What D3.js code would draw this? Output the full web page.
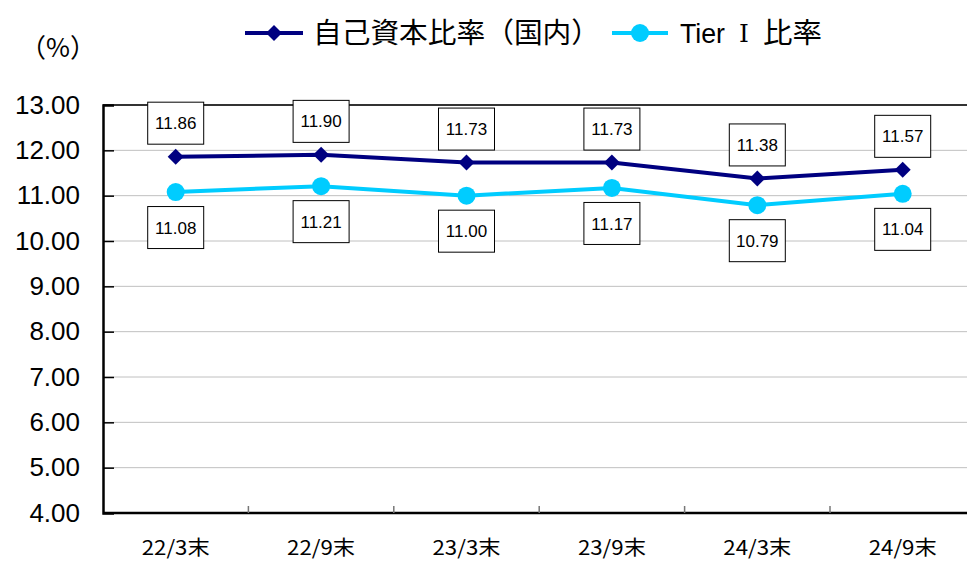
<!DOCTYPE html>
<html><head><meta charset="utf-8">
<script src="https://cdn.jsdelivr.net/npm/d3@7"></script>
<style>body{margin:0;background:#fff;}svg{display:block;}</style>
</head><body>
<svg id="c" width="967" height="561"></svg>
<script>
const categories = ["22/3末","22/9末","23/3末","23/9末","24/3末","24/9末"];
const capitalRatio = [11.86,11.90,11.73,11.73,11.38,11.57];
const tier1Ratio = [11.08,11.21,11.00,11.17,10.79,11.04];
const yTicks = [4,5,6,7,8,9,10,11,12,13];
const seriesNames = ["自己資本比率（国内）","Tier Ⅰ 比率"];

const svg = d3.select("#c");
const L = 103, T = 105, B = 513, R = 103 + 6*145.4;
const x = d3.scaleBand().domain(categories).range([L, R]);
const y = d3.scaleLinear().domain([4,13]).range([B, T]);
const cx = d => x(d) + x.bandwidth()/2;
const cjk = "Noto Sans CJK JP, sans-serif";
const latin = "Liberation Sans, Arial, sans-serif";

// gridlines
svg.append("g").selectAll("line").data(yTicks.filter(v=>v>4&&v<13)).join("line")
  .attr("x1", L).attr("x2", R).attr("y1", d=>y(d)).attr("y2", d=>y(d))
  .attr("stroke", "#c0c0c0").attr("stroke-width", 1);

// plot border top
svg.append("line").attr("x1", L).attr("x2", R).attr("y1", T).attr("y2", T).attr("stroke","#333").attr("stroke-width",2);

// y axis
const yAxis = d3.axisLeft(y).tickValues(yTicks).tickSize(-11).tickPadding(23).tickFormat(d3.format(".2f"));
const gy = svg.append("g").attr("transform", `translate(${L},0)`).call(yAxis);
gy.select(".domain").attr("stroke","#000").attr("stroke-width",2.5);
gy.selectAll(".tick line").attr("stroke","#000").attr("stroke-width",1.5);
gy.selectAll(".tick text").attr("font-family",latin).attr("font-size",26).attr("fill","#000");
gy.selectAll(".tick").filter(d=>d===13||d===4).select("line").remove();

// x axis
const xb = d3.scaleLinear().domain([0,6]).range([L,R]);
const gx = svg.append("g").attr("transform", `translate(0,${B})`);
gx.append("line").attr("x1",L).attr("x2",R).attr("stroke","#000").attr("stroke-width",2.5);
gx.selectAll("line.t").data([1,2,3,4,5]).join("line").attr("class","t")
  .attr("x1",d=>xb(d)).attr("x2",d=>xb(d)).attr("y1",0).attr("y2",-7).attr("stroke","#777").attr("stroke-width",1.5);
gx.selectAll("text").data(categories).join("text")
  .attr("x", d=>cx(d)-34).attr("y", 42)
  .attr("textLength",68).attr("lengthAdjust","spacingAndGlyphs")
  .attr("font-family",cjk).attr("font-size",20).attr("fill","#000")
  .text(d=>d);

// unit
svg.append("text").attr("x",58).attr("y",57).attr("text-anchor","middle")
  .attr("font-family",cjk).attr("font-size",26).text("（%）");

const line = d3.line().x((d,i)=>cx(categories[i])).y(d=>y(d));
const c1 = "#000080", c2 = "#00ccff";
svg.append("path").datum(capitalRatio).attr("d", line).attr("fill","none").attr("stroke",c1).attr("stroke-width",4);
svg.append("path").datum(tier1Ratio).attr("d", line).attr("fill","none").attr("stroke",c2).attr("stroke-width",4);

const dia = d3.symbol().type(d3.symbolSquare).size(128);
svg.append("g").selectAll("path").data(capitalRatio).join("path")
  .attr("d", dia)
  .attr("transform",(d,i)=>`translate(${cx(categories[i])},${y(d)}) rotate(45)`).attr("fill",c1);
svg.append("g").selectAll("circle").data(tier1Ratio).join("circle")
  .attr("cx",(d,i)=>cx(categories[i])).attr("cy",d=>y(d)).attr("r",9).attr("fill",c2);

function labels(data, dy){
  const g = svg.append("g").selectAll("g").data(data).join("g")
    .attr("transform",(d,i)=>`translate(${cx(categories[i])},${y(d)+dy})`);
  g.append("rect").attr("x",-28).attr("y",-21).attr("width",56).attr("height",42)
    .attr("fill","#fff").attr("stroke","#000").attr("stroke-width",1);
  g.append("text").attr("text-anchor","middle").attr("dy","0.36em")
    .attr("font-family",latin).attr("font-size",17).attr("fill","#000")
    .text(d=>d.toFixed(2));
}
labels(capitalRatio, -33.5);
labels(tier1Ratio, 35.5);

// legend
const ly = 33;
const lg = svg.append("g");
lg.append("line").attr("x1",245).attr("x2",303).attr("y1",ly).attr("y2",ly).attr("stroke",c1).attr("stroke-width",4);
lg.append("path").attr("d", dia).attr("transform",`translate(274,${ly}) rotate(45)`).attr("fill",c1);
lg.append("text").attr("x",313).attr("y",ly).attr("dy","0.36em")
  .attr("textLength",287).attr("lengthAdjust","spacingAndGlyphs")
  .attr("font-family",cjk).attr("font-size",28).text(seriesNames[0]);
lg.append("line").attr("x1",612).attr("x2",668).attr("y1",ly).attr("y2",ly).attr("stroke",c2).attr("stroke-width",4);
lg.append("circle").attr("cx",640).attr("cy",ly).attr("r",9).attr("fill",c2);
const parts = seriesNames[1].split(" ");
lg.append("text").attr("x",680).attr("y",ly).attr("dy","0.36em")
  .attr("textLength",45).attr("lengthAdjust","spacingAndGlyphs")
  .attr("font-family",latin).attr("font-size",28).text(parts[0]);
lg.append("text").attr("x",739).attr("y",ly).attr("dy","0.36em")
  .attr("font-family","DejaVu Serif, serif").attr("font-size",25).text(parts[1]);
lg.append("text").attr("x",763).attr("y",ly).attr("dy","0.36em")
  .attr("textLength",59).attr("lengthAdjust","spacingAndGlyphs")
  .attr("font-family",cjk).attr("font-size",28).text(parts[2]);
</script>
</body></html>
